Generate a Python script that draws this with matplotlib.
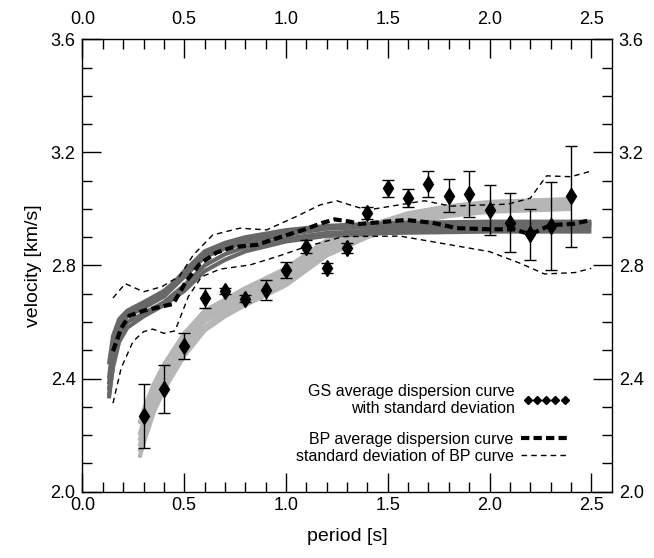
import numpy as np
import matplotlib
matplotlib.use("Agg")
import matplotlib.pyplot as plt
from matplotlib.lines import Line2D

plt.rcParams['font.family'] = ['Liberation Sans', 'DejaVu Sans']

# GS average dispersion curve with standard deviation
gs_period = [0.3, 0.4, 0.5, 0.6, 0.7, 0.8, 0.9, 1.0, 1.1, 1.2, 1.3,
             1.4, 1.5, 1.6, 1.7, 1.8, 1.9, 2.0, 2.1, 2.2, 2.3, 2.4]
gs_vel = [2.268, 2.362, 2.515, 2.684, 2.710, 2.682, 2.713, 2.784, 2.867, 2.792, 2.861,
          2.985, 3.073, 3.038, 3.088, 3.047, 3.052, 2.996, 2.951, 2.910, 2.940, 3.045]
gs_std = [0.113, 0.085, 0.045, 0.035, 0.010, 0.012, 0.035, 0.027, 0.022, 0.018, 0.018,
          0.022, 0.031, 0.031, 0.047, 0.058, 0.081, 0.087, 0.105, 0.091, 0.156, 0.178]

# BP average dispersion curve
bp_period = [0.15, 0.19, 0.23, 0.30, 0.36, 0.445, 0.51, 0.576, 0.659, 0.74, 0.855, 0.954,
             1.085, 1.18, 1.24, 1.315, 1.36, 1.59, 1.72, 1.84, 2.0, 2.12, 2.2, 2.3, 2.41, 2.5]
bp_vel = [2.497, 2.578, 2.622, 2.640, 2.650, 2.664, 2.745, 2.805, 2.846, 2.865, 2.873, 2.896,
          2.926, 2.951, 2.963, 2.955, 2.947, 2.961, 2.951, 2.932, 2.928, 2.928, 2.910, 2.943, 2.947, 2.961]

# standard deviation of BP curve
bp_up_period = [0.15, 0.21, 0.30, 0.39, 0.478, 0.544, 0.64, 0.773, 0.905, 1.05, 1.167, 1.25,
                1.315, 1.40, 1.68, 1.81, 2.09, 2.2, 2.28, 2.40, 2.5]
bp_up_vel = [2.685, 2.736, 2.707, 2.725, 2.763, 2.837, 2.908, 2.932, 2.926, 2.973, 3.014, 3.029,
             3.014, 2.996, 3.029, 3.010, 3.017, 3.038, 3.117, 3.114, 3.134]
bp_lo_period = [0.15, 0.19, 0.248, 0.30, 0.346, 0.40, 0.455, 0.52, 0.585, 0.675, 0.823, 0.954,
                1.10, 1.28, 1.56, 1.76, 2.0, 2.15, 2.27, 2.42, 2.5]
bp_lo_vel = [2.313, 2.437, 2.531, 2.566, 2.575, 2.560, 2.569, 2.690, 2.760, 2.787, 2.802, 2.831,
             2.867, 2.902, 2.904, 2.879, 2.849, 2.808, 2.770, 2.775, 2.790]

# individual BP dispersion curves (dark grey)
dark_period = [0.13, 0.15, 0.18, 0.22, 0.3, 0.4, 0.5, 0.6, 0.7, 0.8, 1.0, 1.2, 1.5, 2.0, 2.5]
dark_curves = [
    [2.33, 2.45, 2.55, 2.60, 2.63, 2.67, 2.73, 2.80, 2.84, 2.865, 2.895, 2.915, 2.925, 2.930, 2.930],
    [2.36, 2.48, 2.58, 2.62, 2.65, 2.69, 2.76, 2.83, 2.86, 2.880, 2.910, 2.930, 2.940, 2.945, 2.945],
    [2.40, 2.52, 2.60, 2.63, 2.66, 2.70, 2.78, 2.85, 2.88, 2.900, 2.925, 2.940, 2.950, 2.955, 2.955],
    [2.34, 2.44, 2.53, 2.58, 2.62, 2.66, 2.71, 2.78, 2.82, 2.850, 2.885, 2.905, 2.915, 2.920, 2.920],
    [2.45, 2.55, 2.61, 2.64, 2.67, 2.71, 2.77, 2.84, 2.87, 2.890, 2.920, 2.935, 2.945, 2.950, 2.950],
    [2.38, 2.50, 2.59, 2.625, 2.655, 2.695, 2.765, 2.835, 2.87, 2.890, 2.915, 2.935, 2.935, 2.940, 2.940],
]

# individual GS dispersion curves (light grey)
light_period = [0.28, 0.3, 0.35, 0.4, 0.5, 0.6, 0.7, 0.8, 1.0, 1.2, 1.4, 1.6, 1.8, 2.0, 2.4]
light_curves = [
    [2.12, 2.17, 2.28, 2.36, 2.48, 2.57, 2.62, 2.66, 2.73, 2.835, 2.90, 2.95, 2.975, 2.990, 3.000],
    [2.16, 2.21, 2.32, 2.40, 2.52, 2.60, 2.65, 2.69, 2.76, 2.860, 2.92, 2.97, 2.990, 3.005, 3.015],
    [2.20, 2.25, 2.36, 2.43, 2.55, 2.63, 2.67, 2.71, 2.78, 2.880, 2.935, 2.98, 3.000, 3.015, 3.025],
    [2.14, 2.19, 2.30, 2.38, 2.50, 2.58, 2.635, 2.675, 2.745, 2.850, 2.91, 2.96, 2.985, 3.000, 3.010],
    [2.24, 2.29, 2.38, 2.45, 2.56, 2.64, 2.68, 2.72, 2.79, 2.890, 2.94, 2.985, 3.010, 3.025, 3.035],
    [2.18, 2.23, 2.34, 2.415, 2.535, 2.615, 2.66, 2.70, 2.77, 2.870, 2.925, 2.975, 2.995, 3.010, 3.020],
]

fig = plt.figure(figsize=(6.54, 5.58), dpi=100)
ax = fig.add_axes([0.1261, 0.1188, 0.8092, 0.8108])

for c in light_curves:
    ax.plot(light_period, c, color='#b6b6b6', lw=3, solid_capstyle='butt', zorder=1)
for c in dark_curves:
    ax.plot(dark_period, c, color='#686868', lw=3, solid_capstyle='butt', zorder=2)

ax.plot(bp_up_period, bp_up_vel, color='black', lw=1, dashes=(4, 3), zorder=3)
ax.plot(bp_lo_period, bp_lo_vel, color='black', lw=1, dashes=(4, 3), zorder=3)
ax.plot(bp_period, bp_vel, color='black', lw=3, dashes=(2.0, 1.0), zorder=4)

ax.errorbar(gs_period, gs_vel, yerr=gs_std, fmt='none', ecolor='black', elinewidth=1,
            capsize=4, capthick=1, zorder=5)
ax.plot(gs_period, gs_vel, 'd', color='black', ms=8, zorder=6)

ax.set_xlim(0, 2.6)
ax.set_ylim(2.0, 3.6)
ax.set_xticks(np.arange(0, 2.51, 0.5))
ax.set_xticks(np.arange(0, 2.6, 0.1), minor=True)
ax.set_yticks(np.arange(2.0, 3.61, 0.4))
ax.set_yticks(np.arange(2.0, 3.6, 0.1), minor=True)
ax.xaxis.set_major_formatter(plt.FormatStrFormatter('%.1f'))
ax.yaxis.set_major_formatter(plt.FormatStrFormatter('%.1f'))

ax.tick_params(which='both', direction='in', top=True, right=True,
               labeltop=True, labelright=True, width=1, labelsize=13)
ax.tick_params(which='major', length=14)
ax.tick_params(which='minor', length=7)
ax.tick_params(axis='x', which='major', pad=4)
ax.tick_params(axis='y', which='major', pad=5)
# top labels sit a bit further from the frame
for t in ax.xaxis.get_major_ticks():
    t.label2.set_y(1.012)
for sp in ax.spines.values():
    sp.set_linewidth(1)

ax.set_xlabel('period [s]', fontsize=14, labelpad=10)
ax.set_ylabel('velocity [km/s]', fontsize=14, labelpad=6)

gs_handle = Line2D([], [], marker='D', color='black', ls='none', ms=4.5)
leg1 = ax.legend([gs_handle], ['GS average dispersion curve\nwith standard deviation'],
                 loc='center right', bbox_to_anchor=(0.935, 0.203), frameon=False,
                 numpoints=5, markerfirst=False, handlelength=2.9, handletextpad=0.5,
                 borderpad=0, fontsize=11.5)
for t in leg1.get_texts():
    t.set_multialignment('right')
ax.add_artist(leg1)
bp_handle = Line2D([], [], color='black', lw=3, dashes=(2.0, 1.0))
std_handle = Line2D([], [], color='black', lw=1, dashes=(4, 3))
ax.legend([bp_handle, std_handle],
          ['BP average dispersion curve', 'standard deviation of BP curve'],
          loc='center right', bbox_to_anchor=(0.935, 0.097), frameon=False,
          markerfirst=False, handlelength=3.0, handletextpad=0.5, labelspacing=0.1,
          borderpad=0, fontsize=11.5)

fig.savefig('out.png', dpi=100)
